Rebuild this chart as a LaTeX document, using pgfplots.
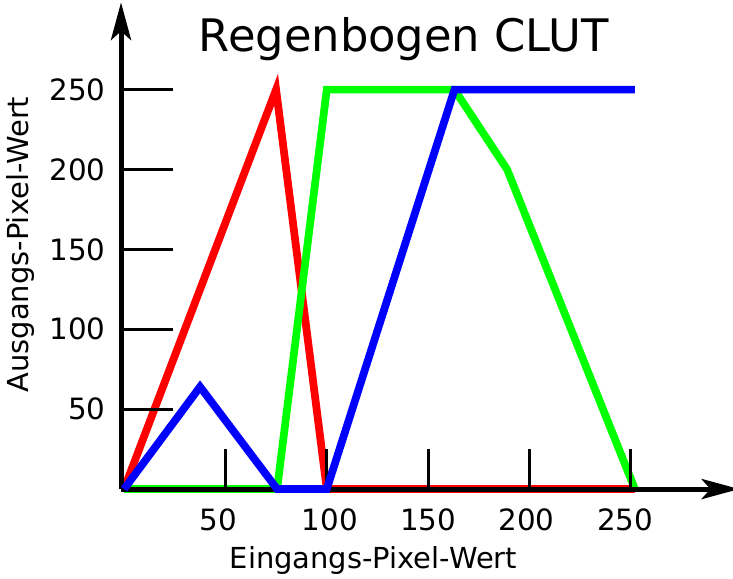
\documentclass[border=0pt]{standalone}
\usepackage{fontspec}
\setmainfont{DejaVu Sans}
\usepackage{pgfplots}
\pgfplotsset{compat=1.18}
\usetikzlibrary{arrows.meta}
\begin{document}
\begin{tikzpicture}
\begin{axis}[
  x=1.52pt, y=1.198pt,
  xmin=-1.5, xmax=303.4, ymin=0, ymax=304.5,
  axis lines=left,
  set layers=axis on top,
  axis line style={line width=3.75pt, -{Stealth[length=28.5pt,width=15.5pt,inset=7pt,line width=0pt]}},
  xtick={50,100,150,200,250},
  xticklabels={50\hspace*{10.5pt}, \hspace*{4.5pt}100, 150, 200\hspace*{4.5pt}, 250\hspace*{8.5pt}},
  ytick={50,100,150,200,250},
  tick align=inside,
  major tick length=39pt,
  tick style={line width=2.4pt, black},
  xtick style={/pgfplots/major tick length=30pt},
  ticklabel style={font=\fontsize{22}{26}\selectfont},
  /pgf/number format/assume math mode=true,
  yticklabel style={xshift=-8pt},
  xticklabel style={yshift=-11.5pt},
  xlabel={Eingangs-Pixel-Wert},
  ylabel={Ausgangs-Pixel-Wert},
  label style={font=\fontsize{21.7}{26}\selectfont},
  xlabel style={at={(axis cs:123,-50)}, anchor=base, inner sep=1.6pt},
  ylabel style={at={(axis cs:-47,153)}, anchor=base, inner sep=5pt},
  clip=false,
  every axis plot/.append style={line width=5.8pt, line join=miter, mark=none},
]
\addplot[red] coordinates {(0,0) (75,250) (100,0) (252,0)};
\addplot[green] coordinates {(0,0) (75.5,0) (100,250) (163,250) (189,200) (252,0)};
\addplot[blue, on layer=axis foreground] coordinates {(0,0) (37.5,64) (75.5,0) (100,0) (163,250) (252,250)};
\node[font=\fontsize{33.6}{40}\selectfont, anchor=base] at (axis cs:138,273.6) {Regenbogen CLUT};
\coordinate (bl) at (axis cs:-61.2,-55.7);
\coordinate (tr) at (axis cs:300.4,306.1);
\end{axis}
\pgfresetboundingbox
\path (bl) rectangle (tr);
\end{tikzpicture}
\end{document}
